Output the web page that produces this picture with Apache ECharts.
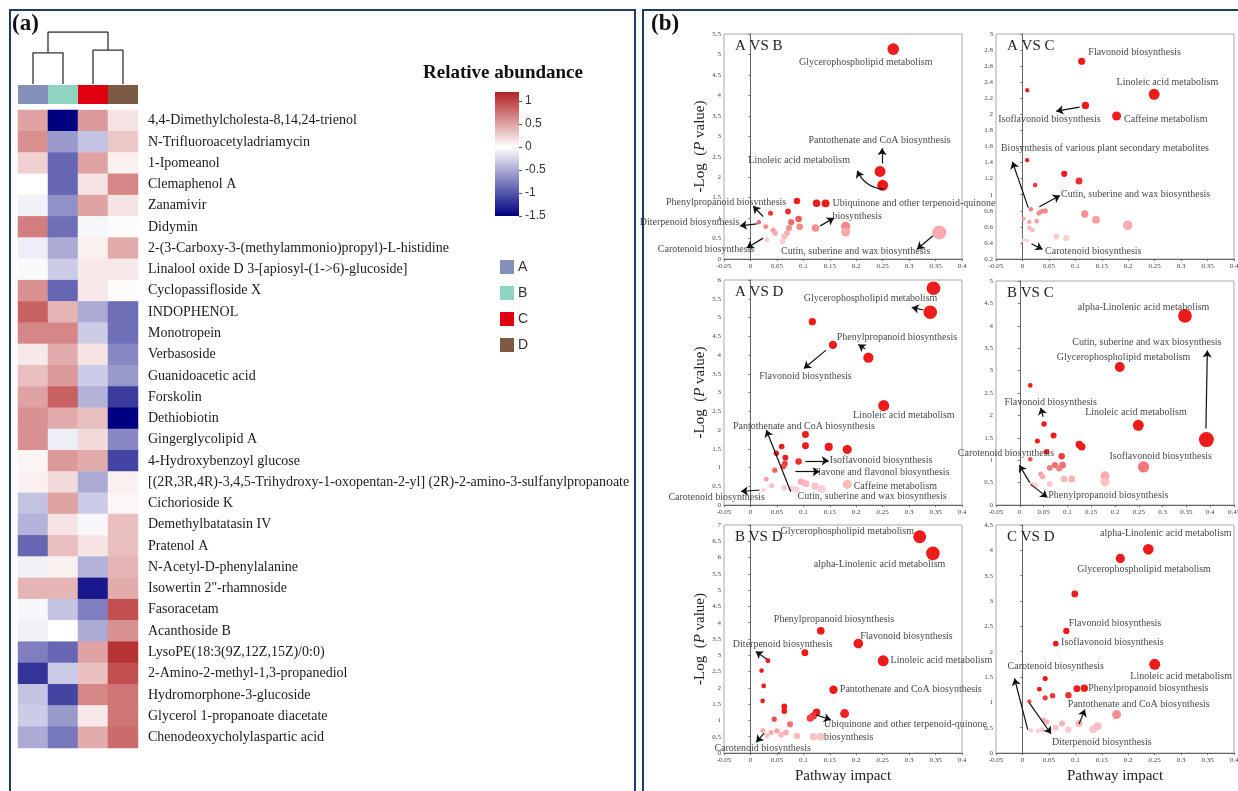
<!DOCTYPE html>
<html><head><meta charset="utf-8">
<script src="https://cdn.jsdelivr.net/npm/echarts@6/dist/echarts.min.js"></script>
<style>html,body{margin:0;padding:0;background:#fff}#c{width:1238px;height:791px}</style>
</head><body><div id="c"></div>
<script>
// ---------- (a) heatmap data ----------
const groups = ['A','B','C','D'];
const groupColors = ['#8490b8','#8fd3c1','#e0000f','#7d5a44'];
const metabolites = [
 '4,4-Dimethylcholesta-8,14,24-trienol','N-Trifluoroacetyladriamycin','1-Ipomeanol','Clemaphenol A','Zanamivir','Didymin',
 '2-(3-Carboxy-3-(methylammonio)propyl)-L-histidine','Linalool oxide D 3-[apiosyl-(1->6)-glucoside]','Cyclopassifloside X',
 'INDOPHENOL','Monotropein','Verbasoside','Guanidoacetic acid','Forskolin','Dethiobiotin','Gingerglycolipid A',
 '4-Hydroxybenzoyl glucose','[(2R,3R,4R)-3,4,5-Trihydroxy-1-oxopentan-2-yl] (2R)-2-amino-3-sulfanylpropanoate',
 'Cichorioside K','Demethylbatatasin IV','Pratenol A','N-Acetyl-D-phenylalanine','Isowertin 2"-rhamnoside','Fasoracetam',
 'Acanthoside B','LysoPE(18:3(9Z,12Z,15Z)/0:0)','2-Amino-2-methyl-1,3-propanediol','Hydromorphone-3-glucoside',
 'Glycerol 1-propanoate diacetate','Chenodeoxycholylaspartic acid'];
const valuesA = [0.5,0.6,0.25,0.0,-0.08,0.7,-0.1,-0.03,0.6,0.85,0.65,0.12,0.35,0.5,0.6,0.6,0.06,0.08,-0.35,-0.45,-0.9,-0.08,0.4,-0.05,-0.08,-0.75,-1.2,-0.35,-0.3,-0.5];
const valuesB = [-1.5,-0.6,-0.9,-0.9,-0.65,-0.85,-0.5,-0.3,-0.9,0.4,0.65,0.45,0.55,0.85,0.45,-0.1,0.55,0.2,0.5,0.15,0.35,0.08,0.4,-0.35,0.0,-0.9,-0.3,-1.1,-0.6,-0.8];
const valuesC = [0.55,-0.35,0.5,0.15,0.5,-0.05,0.08,0.12,0.12,-0.5,-0.3,0.15,-0.3,-0.45,0.35,0.2,0.45,-0.5,-0.3,-0.05,0.15,-0.45,-1.35,-0.75,-0.5,0.5,0.35,0.65,0.12,0.45];
const valuesD = [0.15,0.3,0.08,0.65,0.15,0.02,0.45,0.12,0.02,-0.85,-0.85,-0.7,-0.6,-1.15,-1.5,-0.7,-1.1,0.08,0.05,0.35,0.35,0.4,0.45,0.95,0.6,1.1,0.95,0.75,0.75,0.8];
const colorbarRange = [-1.5, 1.2];
// dendrogram (x = leaf position, y = height)
const dendroLeft  = [[0.5,0],[0.5,0.6],[1.5,0.6],[1.5,0]];
const dendroRight = [[2.5,0],[2.5,0.65],[3.5,0.65],[3.5,0]];
const dendroTop   = [[1,0.6],[1,1],[3,1],[3,0.65]];

// ---------- (b) pathway plots: [impact, -log p] ----------
const pointsAB = [[0.27,5.13],[0.245,2.14],[0.25,1.8],[0.088,1.42],[0.125,1.36],[0.142,1.36],[0.071,1.16],[0.038,1.12],[0.091,0.98],[0.077,0.9],[0.016,0.9],[0.029,0.79],[0.093,0.79],[0.123,0.76],[0.18,0.8],[0.073,0.76],[0.043,0.7],[0.18,0.66],[0.047,0.63],[0.069,0.63],[0.064,0.55],[0.031,0.47],[0.061,0.43],[0.357,0.65]];
const pointsAC = [[0.112,2.66],[0.249,2.25],[0.009,2.3],[0.119,2.11],[0.178,1.98],[0.009,1.43],[0.079,1.26],[0.107,1.17],[0.024,1.12],[0.016,0.82],[0.031,0.77],[0.043,0.8],[0.036,0.79],[0.002,0.7],[0.013,0.66],[0.027,0.67],[0.118,0.76],[0.139,0.69],[0.199,0.62],[0.013,0.59],[0.019,0.56],[0.064,0.48],[0.083,0.46],[0.001,0.43],[0.008,0.43]];
const pointsAD = [[0.346,5.78],[0.34,5.14],[0.117,4.89],[0.156,4.27],[0.223,3.93],[0.252,2.65],[0.104,1.88],[0.104,1.58],[0.148,1.55],[0.183,1.48],[0.059,1.56],[0.049,1.38],[0.066,1.26],[0.091,1.16],[0.065,1.1],[0.062,1.03],[0.046,0.93],[0.03,0.69],[0.04,0.52],[0.096,0.62],[0.105,0.57],[0.122,0.5],[0.135,0.43],[0.183,0.55],[0.064,0.46],[0.078,0.44],[0.087,0.41],[0.025,0.4]];
const pointsBC = [[0.347,4.22],[0.21,3.08],[0.022,2.67],[0.249,1.78],[0.392,1.46],[0.26,0.85],[0.051,1.81],[0.071,1.55],[0.037,1.43],[0.125,1.35],[0.13,1.3],[0.056,1.19],[0.088,1.09],[0.022,1.02],[0.063,0.83],[0.074,0.89],[0.09,0.89],[0.083,0.82],[0.044,0.69],[0.048,0.63],[0.093,0.58],[0.109,0.58],[0.179,0.65],[0.179,0.52],[0.063,0.47],[0.026,0.46],[0.033,0.43]];
const pointsBD = [[0.32,6.64],[0.345,6.13],[0.133,3.75],[0.204,3.36],[0.103,3.08],[0.251,2.83],[0.033,2.83],[0.021,2.53],[0.025,2.06],[0.023,1.6],[0.157,1.94],[0.178,1.21],[0.125,1.25],[0.119,1.14],[0.113,1.07],[0.064,1.43],[0.064,1.29],[0.045,1.04],[0.075,0.88],[0.05,0.68],[0.067,0.63],[0.058,0.56],[0.023,0.69],[0.039,0.63],[0.031,0.53],[0.088,0.52],[0.119,0.5],[0.133,0.5]];
const pointsCD = [[0.238,4.02],[0.185,3.84],[0.099,3.14],[0.083,2.41],[0.063,2.16],[0.25,1.75],[0.043,1.47],[0.032,1.26],[0.043,1.09],[0.057,1.13],[0.087,1.14],[0.103,1.27],[0.117,1.28],[0.013,1.02],[0.178,0.76],[0.04,0.65],[0.046,0.61],[0.075,0.58],[0.063,0.5],[0.107,0.58],[0.087,0.46],[0.016,0.45],[0.029,0.43],[0.134,0.47],[0.142,0.53],[0.051,0.45],[0.037,0.46]];

// annotation anchors (data coords): [text, impact, -log p, align]
const labelsAB = [['Glycerophospholipid metabolism',0.218,4.81],['Pantothenate and CoA biosynthesis',0.244,2.91],['Linoleic acid metabolism',0.092,2.40],['Phenylpropanoid biosynthesis',-0.046,1.38],['Diterpenoid biosynthesis',-0.115,0.90],['Ubiquinone and other terpenoid-quinone\nbiosynthesis',0.155,1.21,'left'],['Carotenoid biosynthesis',-0.084,0.23],['Cutin, suberine and wax biosynthesis',0.199,0.19]];
const labelsAC = [['Flavonoid biosynthesis',0.212,2.77],['Linoleic acid metabolism',0.274,2.40],['Isoflavonoid biosynthesis',0.051,1.94],['Caffeine metabolism',0.271,1.94],['Biosynthesis of various plant secondary metabolites',0.156,1.58],['Cutin, suberine and wax biosynthesis',0.214,1.0],['Carotenoid biosynthesis',0.134,0.30]];
const labelsAD = [['Glycerophospholipid metabolism',0.227,5.51],['Phenylpropanoid biosynthesis',0.277,4.46],['Flavonoid biosynthesis',0.104,3.42],['Linoleic acid metabolism',0.29,2.38],['Pantothenate and CoA biosynthesis',0.101,2.09],['Isoflavonoid biosynthesis',0.247,1.18],['Flavone and flavonol biosynthesis',0.247,0.86],['Caffeine metabolism',0.274,0.51],['Cutin, suberine and wax biosynthesis',0.23,0.24],['Carotenoid biosynthesis',-0.064,0.20]];
const labelsBC = [['alpha-Linolenic acid metabolism',0.26,4.41],['Cutin, suberine and wax biosynthesis',0.267,3.64],['Glycerophospholipid metabolism',0.218,3.29],['Flavonoid biosynthesis',0.065,2.28],['Linoleic acid metabolism',0.244,2.06],['Isoflavonoid biosynthesis',0.296,1.09],['Carotenoid biosynthesis',-0.029,1.15],['Phenylpropanoid biosynthesis',0.186,0.21]];
const labelsBD = [['Glycerophospholipid metabolism',0.183,6.79],['alpha-Linolenic acid metabolism',0.244,5.80],['Phenylpropanoid biosynthesis',0.158,4.11],['Flavonoid biosynthesis',0.295,3.58],['Diterpenoid biosynthesis',0.061,3.33],['Linoleic acid metabolism',0.265,2.83,'left'],['Pantothenate and CoA biosynthesis',0.169,1.96,'left'],['Ubiquinone and other terpenoid-quinone\nbiosynthesis',0.139,0.67,'left'],['Carotenoid biosynthesis',0.023,0.15]];
const labelsCD = [['alpha-Linolenic acid metabolism',0.271,4.33],['Glycerophospholipid metabolism',0.23,3.62],['Flavonoid biosynthesis',0.175,2.56],['Isoflavonoid biosynthesis',0.17,2.18],['Carotenoid biosynthesis',0.063,1.70],['Linoleic acid metabolism',0.30,1.52],['Phenylpropanoid biosynthesis',0.238,1.27],['Pantothenate and CoA biosynthesis',0.22,0.96],['Diterpenoid biosynthesis',0.15,0.20]];
// arrows: [x1, y1, x2, y2, curveness]
const arrowsAB = [[0.249,2.34,0.249,2.71,0],[0.252,1.71,0.202,2.16,0.3],[0.024,1.04,0.005,1.29,0],[0.012,0.86,-0.02,0.81,0],[0.132,0.81,0.158,1.0,0],[0.024,0.51,-0.007,0.27,0],[0.345,0.57,0.315,0.24,0]];
const arrowsAC = [[0.108,2.09,0.064,2.04,0],[0.011,0.84,-0.019,1.41,0],[0.032,0.85,0.071,0.99,0],[0.017,0.39,0.038,0.32,0]];
const arrowsAD = [[0.327,5.2,0.305,5.27,0],[0.217,4.16,0.204,4.28,0],[0.143,4.13,0.101,3.64,0],[0.076,0.36,0.03,2.0,0],[0.104,1.18,0.148,1.18,0],[0.085,0.89,0.131,0.89,0],[0.017,0.40,-0.018,0.36,0]];
const arrowsBC = [[0.391,1.71,0.394,3.45,0],[0.049,1.97,0.044,2.17,0],[0.021,0.5,-0.001,0.89,0],[0.023,0.46,0.058,0.17,0]];
const arrowsBD = [[0.031,2.88,0.01,3.12,0],[0.124,1.17,0.152,1.02,0],[0.026,0.61,0.011,0.33,0]];
const arrowsCD = [[0.01,0.46,-0.015,1.47,0],[0.107,0.57,0.118,0.86,0],[0.013,0.99,0.054,0.38,0]];

const panelTitles = ['A VS B','A VS C','A VS D','B VS C','B VS D','C VS D'];
const panelY = [[0,5.5,0.5],[0.2,3,0.2],[0,6,0.5],[0,5,0.5],[0,7,0.5],[0,4.5,0.5]];
const panelXMax = [0.4,0.4,0.4,0.45,0.4,0.4];

// ---------- build ----------
const SERIF = 'Liberation Serif';
const SANS = 'Liberation Sans';
const chart = echarts.init(document.getElementById('c'));
const option = {animation:false, backgroundColor:'#fff', grid:[], xAxis:[], yAxis:[], series:[], visualMap:[], title:[], graphic:[]};
function addGrid(g){ option.grid.push(Object.assign({containLabel:false, outerBoundsMode:'none'}, g)); return option.grid.length-1; }

// dendrogram
const gD = addGrid({left:18, top:32, width:120, height:52});
option.xAxis.push({gridIndex:gD, type:'value', min:0, max:4, show:false});
option.yAxis.push({gridIndex:gD, type:'value', min:0, max:1, show:false});
[dendroLeft, dendroRight, dendroTop].forEach(d => option.series.push({type:'line', xAxisIndex:gD, yAxisIndex:gD, data:d, symbol:'none', silent:true, lineStyle:{color:'#333', width:1.3}}));

// group strip
const gS = addGrid({left:18, top:85, width:120, height:19});
option.xAxis.push({gridIndex:gS, type:'category', data:groups, show:false});
option.yAxis.push({gridIndex:gS, type:'value', min:0, max:1, show:false});
option.series.push({type:'bar', xAxisIndex:gS, yAxisIndex:gS, barWidth:'100%', barCategoryGap:0, silent:true,
  data: groups.map((g,i)=>({value:1, itemStyle:{color:groupColors[i]}}))});

// heatmap
const gH = addGrid({left:18, top:110, width:120, height:638});
option.xAxis.push({gridIndex:gH, type:'category', data:groups, show:false});
option.yAxis.push({gridIndex:gH, type:'category', data:metabolites, inverse:true, position:'right',
  axisLine:{show:false}, axisTick:{show:false}, splitLine:{show:false},
  axisLabel:{interval:0, margin:10, fontFamily:SERIF, fontSize:14, color:'#1a1a1a'}});
const cols = [valuesA, valuesB, valuesC, valuesD];
const hmData = [];
cols.forEach((arr,c)=>arr.forEach((v,r)=>hmData.push([c,r,v])));
const heatIdx = option.series.length;
option.series.push({type:'heatmap', xAxisIndex:gH, yAxisIndex:gH, data:hmData, silent:true, itemStyle:{borderWidth:0}});
const blueStops = ['#000080','#333399','#6666b3','#9999cc','#ccccE6','#ffffff'];
const redStops = ['#ecc8c8','#d89090','#c55959','#b22222'];
option.visualMap.push({type:'continuous', show:false, seriesIndex:heatIdx, dimension:2, min:colorbarRange[0], max:colorbarRange[1],
  inRange:{color: blueStops.concat(redStops)}});

// colorbar
const gC = addGrid({left:495, top:92, width:24, height:124});
option.xAxis.push({gridIndex:gC, type:'category', data:['cb'], show:false});
option.yAxis.push({gridIndex:gC, type:'value', position:'right', min:colorbarRange[0], max:colorbarRange[1], interval:0.5,
  axisLine:{show:false}, splitLine:{show:false}, axisTick:{show:true, length:3, lineStyle:{color:'#555'}},
  axisLabel:{showMaxLabel:false, margin:6, fontFamily:SANS, fontSize:12, color:'#333'}});
option.series.push({type:'bar', xAxisIndex:gC, yAxisIndex:gC, stack:'cb', barWidth:'100%', silent:true,
  data:[{value:colorbarRange[1], itemStyle:{color:new echarts.graphic.LinearGradient(0,0,0,1,[
    {offset:0,color:'#b22222'},{offset:0.25,color:'#c55959'},{offset:0.5,color:'#d89090'},{offset:0.75,color:'#ecc8c8'},{offset:1,color:'#ffffff'}])}}]});
option.series.push({type:'bar', xAxisIndex:gC, yAxisIndex:gC, stack:'cb', barWidth:'100%', silent:true,
  data:[{value:colorbarRange[0], itemStyle:{color:new echarts.graphic.LinearGradient(0,0,0,1,[
    {offset:0,color:'#ffffff'},{offset:0.2,color:'#ccccE6'},{offset:0.4,color:'#9999cc'},{offset:0.6,color:'#6666b3'},{offset:0.8,color:'#333399'},{offset:1,color:'#000080'}])}}]});

// pathway panels
const allPoints = [pointsAB, pointsAC, pointsAD, pointsBC, pointsBD, pointsCD];
const allLabels = [labelsAB, labelsAC, labelsAD, labelsBC, labelsBD, labelsCD];
const allArrows = [arrowsAB, arrowsAC, arrowsAD, arrowsBC, arrowsBD, arrowsCD];
const layout = [
  {left:724, top:34, width:238, height:225},
  {left:996, top:34, width:238, height:225},
  {left:724, top:280, width:238, height:225},
  {left:996, top:281, width:238, height:224},
  {left:724, top:525, width:238, height:228},
  {left:996, top:525, width:238, height:228}];
const scatterIdx = [];
layout.forEach((L,i)=>{
  const g = addGrid(Object.assign({show:true, borderColor:'#a8a8a8', borderWidth:1, backgroundColor:'transparent'}, L));
  const isLeft = i % 2 === 0, isBottom = i >= 4;
  option.xAxis.push({gridIndex:g, type:'value', min:-0.05, max:panelXMax[i], interval:0.05,
    axisLine:{show:true, lineStyle:{color:'#666', width:1}}, axisTick:{show:true, length:2, lineStyle:{color:'#666'}},
    splitLine:{show:false}, axisLabel:{fontFamily:SERIF, fontSize:7, color:'#444', margin:4, hideOverlap:false},
    name: isBottom ? 'Pathway impact' : '', nameLocation:'middle', nameGap:16,
    nameTextStyle:{fontFamily:SERIF, fontSize:15, color:'#222'}});
  option.yAxis.push({gridIndex:g, type:'value', min:panelY[i][0], max:panelY[i][1], interval:panelY[i][2],
    axisLine:{show:true, lineStyle:{color:'#666', width:1}}, axisTick:{show:true, length:2, lineStyle:{color:'#666'}},
    splitLine:{show:false}, axisLabel:{fontFamily:SERIF, fontSize:7, color:'#444', margin:3, hideOverlap:false},
    name: isLeft ? '-Log  ({i|P} value)' : '', nameLocation:'middle', nameGap:16, nameRotate:90,
    nameTextStyle:{fontFamily:SERIF, fontSize:15, color:'#222', rich:{i:{fontFamily:SERIF, fontSize:15, color:'#222', fontStyle:'italic'}}}});
  scatterIdx.push(option.series.length);
  option.series.push({type:'scatter', xAxisIndex:g, yAxisIndex:g, data:allPoints[i], silent:true,
    symbolSize: v => 4 + 28 * v[0], itemStyle:{opacity:1}});
  option.series.push({type:'scatter', xAxisIndex:g, yAxisIndex:g, silent:true, clip:false, symbolSize:1,
    itemStyle:{color:'rgba(0,0,0,0)'}, z:5,
    label:{show:true, position:'inside', formatter:p=>p.name, fontFamily:SERIF, fontSize:10, lineHeight:13, color:'#111'},
    data: allLabels[i].map(l=>({name:l[0], value:[l[1],l[2]], label: l[3] ? {align:l[3]} : undefined}))});
  option.series.push({type:'lines', coordinateSystem:'cartesian2d', xAxisIndex:g, yAxisIndex:g, silent:true, clip:false, z:6,
    symbol:['none','arrow'], symbolSize:7, lineStyle:{color:'#111', width:1.2, opacity:1},
    data: allArrows[i].map(a=>({coords:[[a[0],a[1]],[a[2],a[3]]], lineStyle:{curveness:a[4]}}))});
  option.title.push({text:panelTitles[i], left:L.left+11, top:L.top+5, padding:0,
    textStyle:{fontFamily:SERIF, fontSize:15, fontWeight:'normal', color:'#222'}});
});
option.visualMap.push({type:'continuous', show:false, seriesIndex:scatterIdx, dimension:1, min:0.4, max:1.25,
  inRange:{color:['#fcd6da','#f8a3a6','#f25a5a','#ee1b1b']}});

// static decorations
const legendItems = groups.map((g,i)=>[
  {type:'rect', shape:{x:500, y:260+i*26, width:14, height:14}, style:{fill:groupColors[i]}},
  {type:'text', x:518, y:267+i*26, style:{text:g, font:'14px '+SANS, fill:'#333', textVerticalAlign:'middle'}}]).flat();
option.graphic = [
  {type:'rect', shape:{x:10, y:10, width:625, height:790}, style:{fill:'none', stroke:'#1f3b63', lineWidth:2}},
  {type:'rect', shape:{x:643, y:10, width:600, height:790}, style:{fill:'none', stroke:'#1f3b63', lineWidth:2}},
  {type:'text', x:12, y:13, style:{text:'(a)', font:'bold 23px '+SERIF, fill:'#111'}},
  {type:'text', x:651, y:13, style:{text:'(b)', font:'bold 23px '+SERIF, fill:'#111'}},
  {type:'text', x:503, y:73, style:{text:'Relative abundance', font:'bold 19px '+SERIF, fill:'#111', textAlign:'center', textVerticalAlign:'middle'}}
].concat(legendItems);

chart.setOption(option);
</script></body></html>
